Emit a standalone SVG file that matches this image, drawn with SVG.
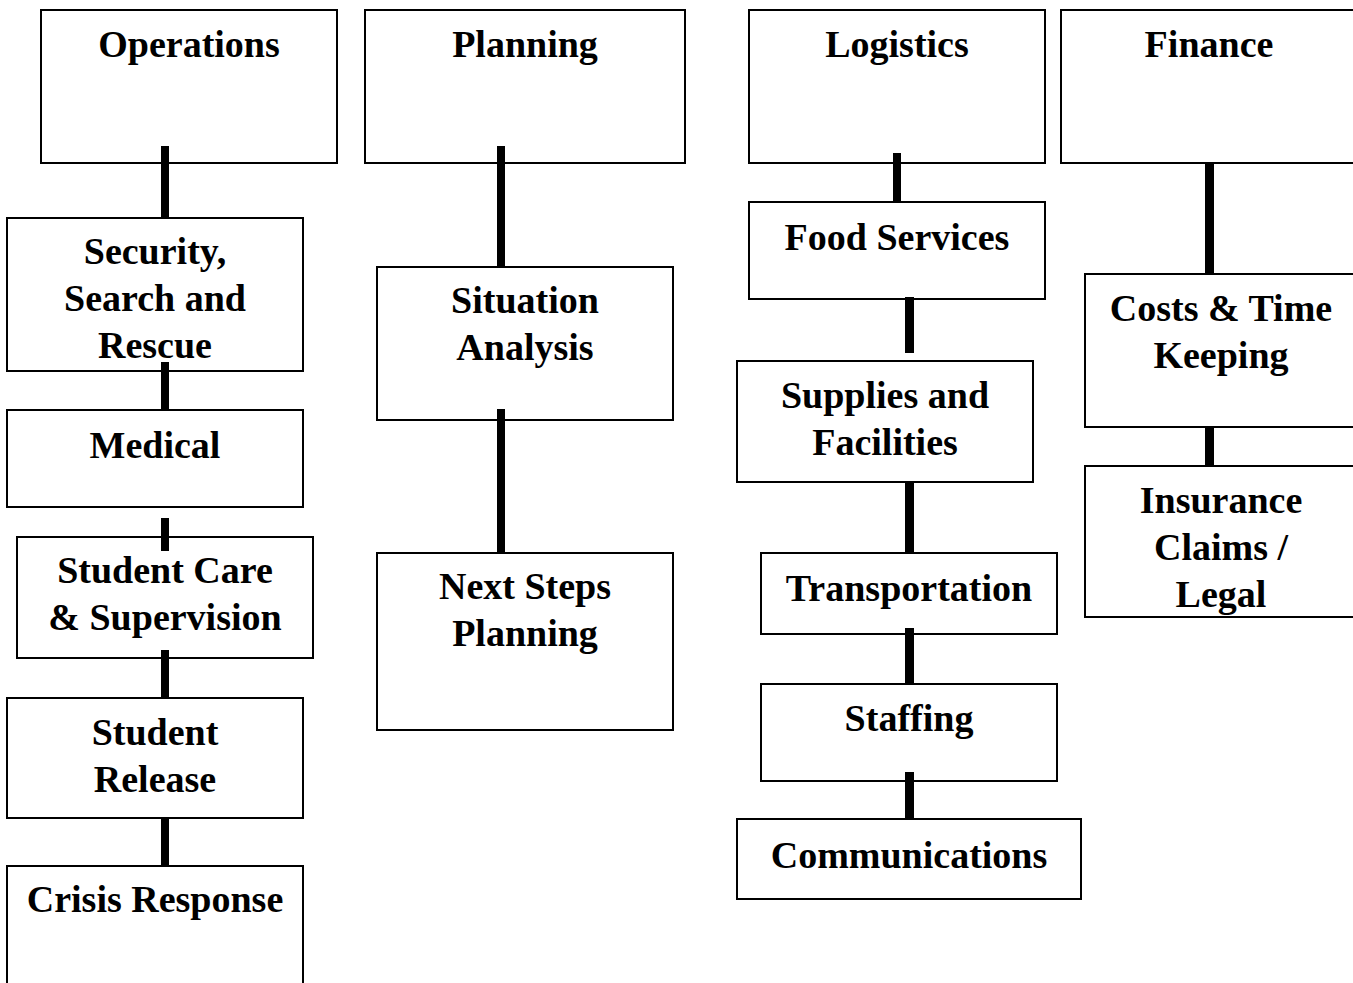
<svg xmlns="http://www.w3.org/2000/svg" width="1353" height="983" viewBox="0 0 1353 983">
<style>
.box{fill:#fff;stroke:#000;stroke-width:2}
.t{font-family:"Liberation Serif","Times New Roman",serif;font-weight:bold;font-size:38px;fill:#000;text-anchor:middle}
.c{fill:#000}
</style>
<g id="operations"><rect class="box" x="41" y="10" width="296" height="153"/><text class="t" x="189" y="57">Operations</text></g>
<g id="security"><rect class="box" x="7" y="218" width="296" height="153"/><text class="t" x="155" y="264">Security,</text><text class="t" x="155" y="311">Search and</text><text class="t" x="155" y="358">Rescue</text></g>
<g id="medical"><rect class="box" x="7" y="410" width="296" height="97"/><text class="t" x="155" y="458">Medical</text></g>
<g id="student-care"><rect class="box" x="17" y="537" width="296" height="121"/><text class="t" x="165" y="583">Student Care</text><text class="t" x="165" y="630">&amp; Supervision</text></g>
<g id="student-release"><rect class="box" x="7" y="698" width="296" height="120"/><text class="t" x="155" y="745">Student</text><text class="t" x="155" y="792">Release</text></g>
<g id="crisis-response"><rect class="box" x="7" y="866" width="296" height="140"/><text class="t" x="155" y="912">Crisis Response</text></g>

<g id="planning"><rect class="box" x="365" y="10" width="320" height="153"/><text class="t" x="525" y="57">Planning</text></g>
<g id="situation-analysis"><rect class="box" x="377" y="267" width="296" height="153"/><text class="t" x="525" y="313">Situation</text><text class="t" x="525" y="360">Analysis</text></g>
<g id="next-steps"><rect class="box" x="377" y="553" width="296" height="177"/><text class="t" x="525" y="599">Next Steps</text><text class="t" x="525" y="646">Planning</text></g>

<g id="logistics"><rect class="box" x="749" y="10" width="296" height="153"/><text class="t" x="897" y="57">Logistics</text></g>
<g id="food-services"><rect class="box" x="749" y="202" width="296" height="97"/><text class="t" x="897" y="250">Food Services</text></g>
<g id="supplies"><rect class="box" x="737" y="361" width="296" height="121"/><text class="t" x="885" y="408">Supplies and</text><text class="t" x="885" y="455">Facilities</text></g>
<g id="transportation"><rect class="box" x="761" y="553" width="296" height="81"/><text class="t" x="909" y="601">Transportation</text></g>
<g id="staffing"><rect class="box" x="761" y="684" width="296" height="97"/><text class="t" x="909" y="731">Staffing</text></g>
<g id="communications"><rect class="box" x="737" y="819" width="344" height="80"/><text class="t" x="909" y="868">Communications</text></g>

<g id="finance"><rect class="box" x="1061" y="10" width="310" height="153"/><text class="t" x="1209" y="57">Finance</text></g>
<g id="costs"><rect class="box" x="1085" y="274" width="290" height="153"/><text class="t" x="1221" y="321">Costs &amp; Time</text><text class="t" x="1221" y="368">Keeping</text></g>
<g id="insurance"><rect class="box" x="1085" y="466" width="290" height="151"/><text class="t" x="1221" y="513">Insurance</text><text class="t" x="1221" y="560">Claims /</text><text class="t" x="1221" y="607">Legal</text></g>

<g id="connectors">
<rect class="c" x="161" y="146" width="8" height="72"/>
<rect class="c" x="161" y="362" width="8" height="48"/>
<rect class="c" x="161" y="518" width="8" height="33"/>
<rect class="c" x="161" y="650" width="8" height="48"/>
<rect class="c" x="161" y="818" width="8" height="48"/>
<rect class="c" x="497" y="146" width="8" height="121"/>
<rect class="c" x="497" y="409" width="8" height="144"/>
<rect class="c" x="893" y="153" width="8" height="49"/>
<rect class="c" x="905" y="297" width="9" height="56"/>
<rect class="c" x="905" y="482" width="9" height="71"/>
<rect class="c" x="905" y="628" width="9" height="56"/>
<rect class="c" x="905" y="772" width="9" height="47"/>
<rect class="c" x="1205" y="163" width="9" height="111"/>
<rect class="c" x="1205" y="427" width="9" height="39"/>
</g>
</svg>
